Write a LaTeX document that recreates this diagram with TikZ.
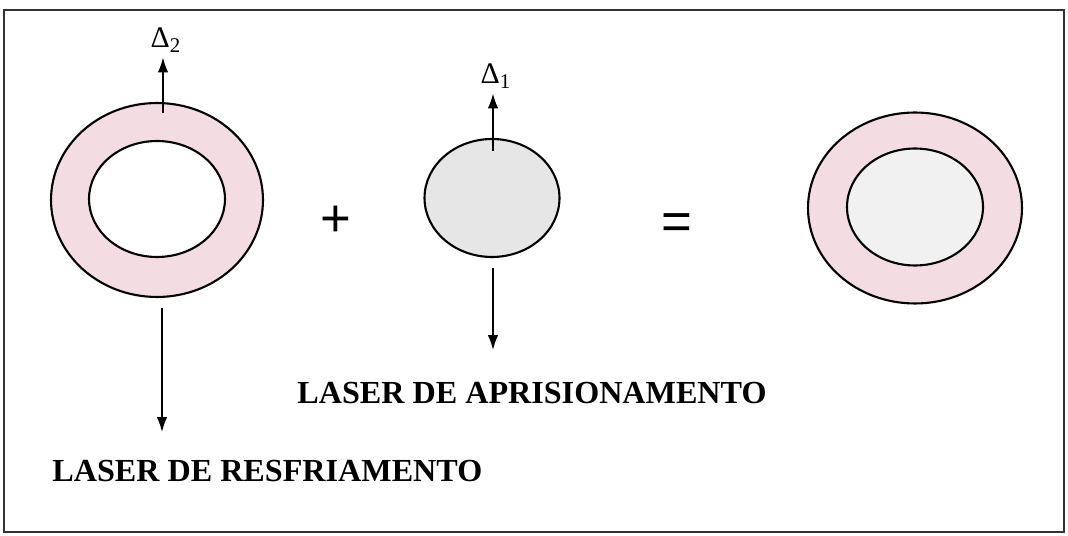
\documentclass[tikz,border=0pt]{standalone}
\usepackage{fontspec}
\setmainfont{Liberation Serif}
\newfontfamily\plainsans{Liberation Sans}
\usepackage{xcolor}
\usetikzlibrary{shapes.geometric,arrows.meta,positioning}

\definecolor{ringpink}{RGB}{244,221,226}
\definecolor{coregray}{RGB}{230,230,230}
\definecolor{paler}{RGB}{241,241,241}

\begin{document}
\begin{tikzpicture}[
        x=0.02cm, y=-0.02cm,
        disc/.style={ellipse, draw, line width=1.2pt, inner sep=0pt},
        arrow/.style={->, >={Latex[length=8.5pt,width=6pt]}, line width=0.9pt},
        delta/.style={font=\fontsize{17}{19}\selectfont, inner sep=0pt},
        caption/.style={font=\fontsize{18.3}{21}\selectfont\bfseries, anchor=west, inner sep=0pt},
        sign/.style={font=\plainsans\fontsize{30}{32}\selectfont}
    ]
        \useasboundingbox (0,0) rectangle (1068,536);
        \draw[line width=1.6pt, black!80] (4,10) rectangle (1064,532);
        % cooling ring
        \node[disc, fill=ringpink, minimum width=4.24cm, minimum height=3.88cm] (cool) at (157,200) {};
        \node[disc, fill=white, minimum width=2.72cm, minimum height=2.32cm] (coolin) at (157,199) {};
        \node[delta] (d2) at (166,40) {Δ\textsubscript{2}};
        \coordinate (coolbase) at (163,113);
        \coordinate (coolend) at (162,432);
        \node[caption] (coollbl) at (52,471) {LASER DE RESFRIAMENTO};
        % trapping core
        \node[sign] (plus) at (336,221) {+};
        \node[disc, fill=coregray, minimum width=2.7cm, minimum height=2.36cm] (trap) at (492,198) {};
        \node[delta] (d1) at (496,76) {Δ\textsubscript{1}};
        \coordinate (trapbase) at (493,151);
        \coordinate (trapend) at (493,350);
        \node[caption] (traplbl) at (297,393) {LASER DE APRISIONAMENTO};
        % sum
        \node[sign] (eq) at (677,227) {=};
        \node[disc, fill=ringpink, minimum width=4.28cm, minimum height=3.82cm] (sum) at (915,208) {};
        \node[disc, fill=paler, minimum width=2.72cm, minimum height=2.34cm] (sumin) at (915,207) {};
        \draw[arrow] (coolbase) -- ([yshift=-0.1cm]coolbase |- d2.south);
        \draw[arrow, shorten <=0.2cm] (cool.south -| coolend) -- (coolend);
        \draw[arrow] (trapbase) -- ([yshift=-0.1cm]trapbase |- d1.south);
        \draw[arrow, shorten <=0.2cm] (trap.south -| trapend) -- (trapend);
    \end{tikzpicture}
\end{document}
